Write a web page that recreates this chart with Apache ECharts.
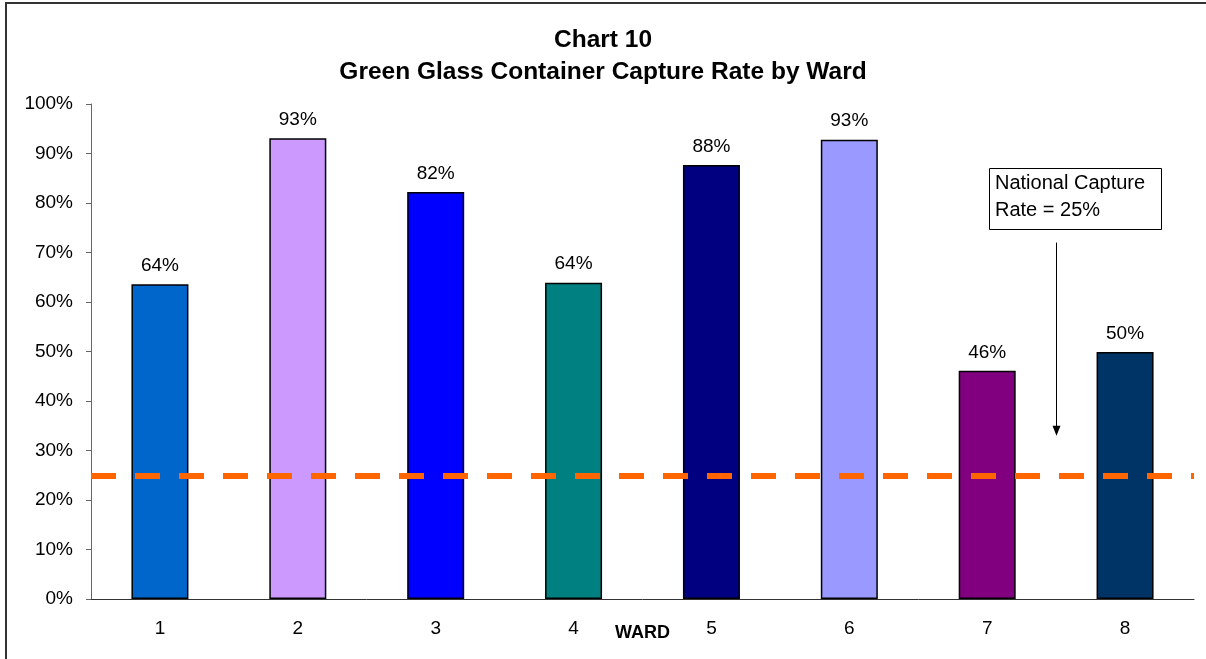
<!DOCTYPE html>
<html>
<head>
<meta charset="utf-8">
<script src="https://cdn.jsdelivr.net/npm/echarts@6/dist/echarts.min.js"></script>
<style>
html, body { margin: 0; padding: 0; background: #fff; }
#main { width: 1206px; height: 659px; }
</style>
</head>
<body>
<div id="main"></div>
<script>
// 数据
var wards = ['1', '2', '3', '4', '5', '6', '7', '8'];
var captureRates = [0.636, 0.931, 0.822, 0.639, 0.877, 0.928, 0.461, 0.499];
var barColors = ['#0066CC', '#CC99FF', '#0000FF', '#008080', '#000080', '#9999FF', '#800080', '#003366'];
var nationalRate = 0.25;
// 箭头的起止值（在7和8之间）
var arrowFrom = 0.72;
var arrowTo = 0.33;

var font = '"Liberation Sans", Arial, sans-serif';
var chart = echarts.init(document.getElementById('main'));

var option = {
   backgroundColor: '#fff',
   animation: false,
   title: {
      text: 'Chart 10\nGreen Glass Container Capture Rate by Ward',
      left: 'center',
      top: 24,
      padding: [0, 0, 0, 12],
      textStyle: {
         fontFamily: font,
         fontSize: 24.5,
         fontWeight: 'bold',
         color: '#000',
         lineHeight: 32
      }
   },
   grid: {
      left: 91,
      right: 12,
      top: 104,
      bottom: 60,
      containLabel: false,
      outerBoundsMode: 'none'
   },
   xAxis: {
      type: 'category',
      data: wards,
      name: 'WARD',
      nameLocation: 'middle',
      nameGap: 25,
      nameMoveOverlap: false,
      nameTextStyle: {
         fontFamily: font,
         fontSize: 18,
         fontWeight: 'bold',
         color: '#000'
      },
      axisLine: { lineStyle: { color: '#333', width: 1 } },
      axisTick: { length: 6, lineStyle: { color: '#333' } },
      axisLabel: { fontFamily: font, fontSize: 19, color: '#000', margin: 20 }
   },
   yAxis: {
      type: 'value',
      min: 0,
      max: 1,
      interval: 0.1,
      axisLine: { show: true, lineStyle: { color: '#666', width: 1 } },
      axisTick: { show: true, length: 5, lineStyle: { color: '#666' } },
      splitLine: { show: false },
      axisLabel: {
         fontFamily: font,
         fontSize: 19,
         color: '#000',
         margin: 18,
         formatter: function (v) {
            return Math.round(v * 100) + '%';
         }
      }
   },
   series: [{
      name: 'Capture Rate',
      type: 'bar',
      barWidth: 57,
      data: captureRates.map(function (v, i) {
         return {
            value: v,
            itemStyle: { color: barColors[i] }
         };
      }),
      itemStyle: { borderColor: '#000', borderWidth: 1.5 },
      label: {
         show: true,
         position: 'top',
         distance: 9,
         fontFamily: font,
         fontSize: 19,
         color: '#000',
         formatter: function (p) {
            return Math.round(p.value * 100) + '%';
         }
      },
      markLine: {
         silent: true,
         symbol: 'none',
         label: { show: false },
         lineStyle: { color: '#FF6600', width: 6, type: [25, 19], opacity: 1 },
         data: [{ yAxis: nationalRate }]
      }
   }]
};

chart.setOption(option);

// 注释：箭头和文本框
var p7 = chart.convertToPixel({ gridIndex: 0 }, [wards[6], arrowFrom]);
var p8 = chart.convertToPixel({ gridIndex: 0 }, [wards[7], arrowTo]);
var ax = Math.round((p7[0] + p8[0]) / 2) + 0.5;
var y1 = p7[1];
var y2 = p8[1];

chart.setOption({
   graphic: [{
      type: 'rect',
      shape: { x: 6, y: 3, width: 1260, height: 720 },
      style: { fill: 'none', stroke: '#333', lineWidth: 2 },
      silent: true
   }, {
      type: 'rect',
      shape: { x: 989.5, y: 168.5, width: 172, height: 61 },
      style: { fill: '#fff', stroke: '#000', lineWidth: 1 },
      silent: true
   }, {
      type: 'text',
      x: 995,
      y: 170,
      style: {
         text: 'National Capture\nRate = 25%',
         font: '20px ' + font,
         fill: '#000',
         lineHeight: 27,
         verticalAlign: 'top'
      },
      silent: true
   }, {
      type: 'line',
      shape: { x1: ax, y1: y1, x2: ax, y2: y2 - 8 },
      style: { stroke: '#000', lineWidth: 1 },
      silent: true
   }, {
      type: 'polygon',
      shape: { points: [[ax - 4, y2 - 10], [ax + 4, y2 - 10], [ax, y2]] },
      style: { fill: '#000' },
      silent: true
   }]
});
</script>
</body>
</html>
